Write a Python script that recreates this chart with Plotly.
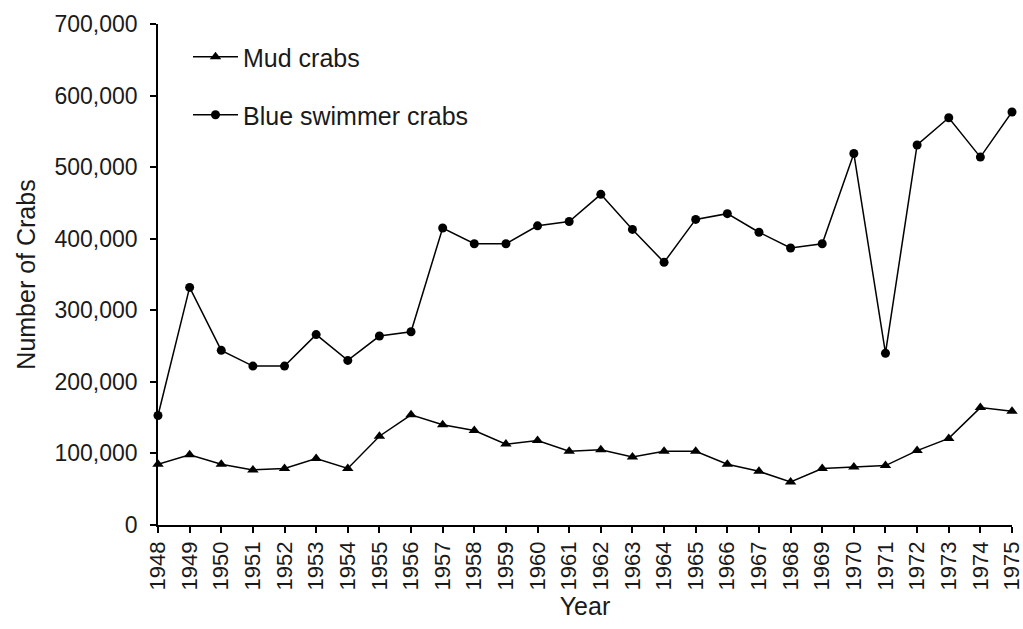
import plotly.graph_objects as go

years = list(range(1948, 1976))
mud_crabs = [85000, 98000, 85000, 77000, 79000, 93000, 79000, 124000, 154000, 140000,
             132000, 113000, 118000, 103000, 105000, 95000, 103000, 103000, 85000, 75000,
             60000, 79000, 81000, 83000, 104000, 121000, 164000, 159000]
blue_swimmer = [153000, 332000, 244000, 222000, 222000, 266000, 230000, 264000, 270000, 415000,
                393000, 393000, 418000, 424000, 462000, 413000, 367000, 427000, 435000, 409000,
                387000, 393000, 519000, 240000, 531000, 569000, 514000, 577000]
y_ticks = [0, 100000, 200000, 300000, 400000, 500000, 600000, 700000]

FONT = "Liberation Sans, Arial, sans-serif"
TXT = "#1a1a1a"

fig = go.Figure()
fig.add_trace(go.Scatter(
    x=years, y=mud_crabs, name="Mud crabs", mode="lines+markers",
    line=dict(color="black", width=1.5),
    marker=dict(symbol="triangle-up", size=10, color="black"),
    cliponaxis=False, legend="legend"))
fig.add_trace(go.Scatter(
    x=years, y=blue_swimmer, name="Blue swimmer crabs", mode="lines+markers",
    line=dict(color="black", width=1.5),
    marker=dict(symbol="circle", size=9, color="black"),
    cliponaxis=False, legend="legend2"))

PW = 1023 - 158 - 11
legend_common = dict(font=dict(family=FONT, size=25, color=TXT), bgcolor="rgba(0,0,0,0)",
                     borderwidth=0, xanchor="left", yanchor="middle", itemwidth=45)

fig.update_layout(
    width=1023, height=629,
    margin=dict(l=158, r=11, t=24, b=104, autoexpand=False),
    paper_bgcolor="white", plot_bgcolor="white",
    font=dict(family=FONT, size=23, color=TXT),
    showlegend=True,
    legend=dict(x=(188 - 158) / PW, y=(525 - 57) / 501, **legend_common),
    legend2=dict(x=(188 - 158) / PW, y=(525 - 115) / 501, **legend_common),
    xaxis=dict(
        range=[1948, 1975], tickmode="array", tickvals=years,
        ticktext=[str(y) for y in years], tickangle=-90,
        ticklabeloverflow="allow", automargin=False,
        showline=True, linecolor="black", linewidth=1.5,
        ticks="outside", ticklen=6, tickcolor="black", tickwidth=1.5,
        showgrid=False, zeroline=False,
        tickfont=dict(size=22),
        title=dict(text="Year", font=dict(size=25), standoff=8),
    ),
    yaxis=dict(
        range=[0, 700000], tickmode="array", tickvals=y_ticks,
        ticktext=[f"{v:,}" for v in y_ticks],
        ticklabeloverflow="allow", automargin=False,
        showline=True, linecolor="black", linewidth=1.5,
        ticks="outside", ticklen=6, tickcolor="black", tickwidth=1.5,
        showgrid=False, zeroline=False,
        tickfont=dict(size=23), ticklabelstandoff=8,
        title=dict(text="Number of Crabs", font=dict(size=25), standoff=12),
    ),
)

fig.write_html("out.html", config={"displayModeBar": False},
               post_script="document.body.style.margin='0';document.body.style.overflow='hidden';")
